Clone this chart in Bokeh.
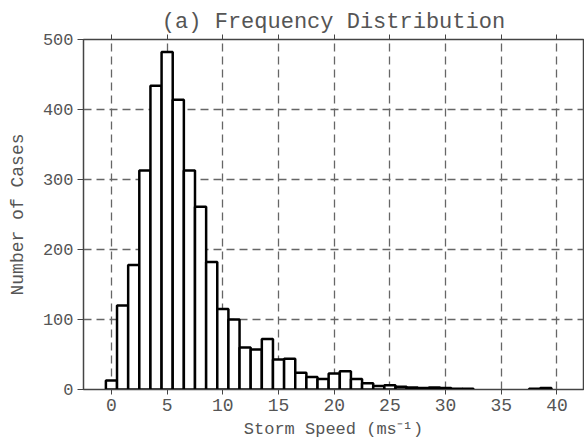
from bokeh.plotting import figure
from bokeh.models import LinearAxis, Range1d, FixedTicker, ColumnDataSource
from bokeh.embed import file_html
from bokeh.resources import INLINE

# Data (1 m/s bins centred on integers)
speed_centers = list(range(0, 41))
case_counts = [13, 120, 178, 313, 434, 482, 414, 313, 261, 182,
               115, 100, 60, 57, 72, 43, 44, 24, 18, 15,
               23, 26, 15, 9, 5, 6, 4, 3, 2, 3,
               2, 1, 1, 0, 0, 0, 0, 0, 1, 2, 0]
x_ticks = [0, 5, 10, 15, 20, 25, 30, 35, 40]
y_ticks = [0, 100, 200, 300, 400, 500]

title_text = "(a) Frequency Distribution"
x_label = "Storm Speed (ms\u207b\u00b9)"
y_label = "Number of Cases"

FONT = "Liberation Mono"
TXT = "#555555"
AX = "#444444"

nz = [i for i, c in enumerate(case_counts) if c > 0]
src = ColumnDataSource(dict(x=[speed_centers[i] for i in nz],
                            top=[case_counts[i] for i in nz]))

p = figure(width=584, height=441,
           x_range=Range1d(-2.51, 42.38), y_range=Range1d(0, 500),
           output_backend="svg", toolbar_location=None,
           min_border_left=83, min_border_right=1,
           min_border_top=39, min_border_bottom=52)
p.background_fill_color = "white"
p.border_fill_color = "white"
p.outline_line_color = AX
p.outline_line_width = 1.5

p.title.text = title_text
p.title.align = "center"
p.title.text_font = FONT
p.title.text_font_size = "22px"
p.title.text_font_style = "normal"
p.title.text_color = TXT
p.title.standoff = 0
p.title.offset = 0

p.vbar(x="x", top="top", bottom=0, width=1.0, source=src,
       fill_color="white", line_color="black", line_width=2.5)

# grids
p.xgrid.ticker = FixedTicker(ticks=x_ticks)
p.ygrid.ticker = FixedTicker(ticks=y_ticks)
for g in (p.xgrid, p.ygrid):
    g.grid_line_color = "#666666"
    g.grid_line_dash = "8 5"
    g.grid_line_width = 1.3

# bottom axis
xa = p.xaxis[0]
xa.ticker = FixedTicker(ticks=x_ticks)
xa.axis_label = x_label
xa.axis_label_text_font = FONT
xa.axis_label_text_font_size = "17px"
xa.axis_label_text_font_style = "normal"
xa.axis_label_text_color = TXT
xa.axis_label_standoff = 6
xa.major_label_text_font = FONT
xa.major_label_text_font_size = "18px"
xa.major_label_text_color = TXT
xa.major_label_standoff = 4
xa.axis_line_color = AX
xa.major_tick_line_color = AX
xa.major_tick_in = 0
xa.major_tick_out = 5
xa.minor_tick_line_color = None

# left axis
ya = p.yaxis[0]
ya.ticker = FixedTicker(ticks=y_ticks)
ya.axis_label = y_label
ya.axis_label_text_font = FONT
ya.axis_label_text_font_size = "18px"
ya.axis_label_text_font_style = "normal"
ya.axis_label_text_color = TXT
ya.axis_label_standoff = 12
ya.major_label_text_font = FONT
ya.major_label_text_font_size = "17px"
ya.major_label_text_color = TXT
ya.major_label_standoff = 4
ya.axis_line_color = AX
ya.major_tick_line_color = AX
ya.major_tick_in = 0
ya.major_tick_out = 6
ya.minor_tick_line_color = None

# top axis: ticks only
ta = LinearAxis(ticker=FixedTicker(ticks=x_ticks),
                major_label_overrides={t: "" for t in x_ticks})
ta.axis_line_color = AX
ta.major_tick_line_color = AX
ta.major_tick_in = 0
ta.major_tick_out = 5
ta.minor_tick_line_color = None
ta.major_label_standoff = 0
ta.major_label_text_font_size = "1px"
p.add_layout(ta, "above")

open("out.html", "w").write(file_html(p, INLINE))
